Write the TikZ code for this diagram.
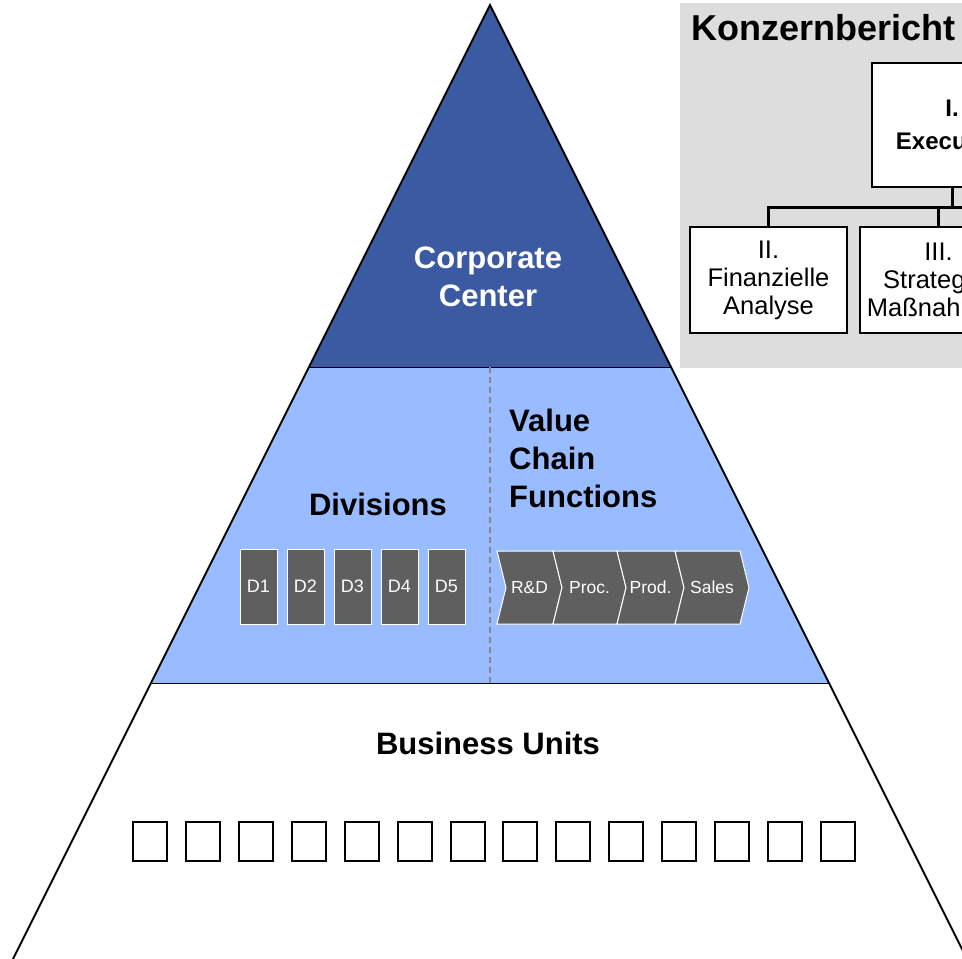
\documentclass[tikz,border=0pt]{standalone}
\usepackage{fontspec}
\setmainfont{Liberation Sans}
\definecolor{cdark}{HTML}{3C5AA2}
\definecolor{clight}{HTML}{99BBFF}
\definecolor{cbox}{HTML}{5F5F5F}
\definecolor{cpanel}{HTML}{DDDDDD}
\definecolor{cdash}{HTML}{888888}
\tikzset{
  bigtext/.style={font=\fontsize{31}{38}\selectfont\bfseries, inner sep=0pt},
  dbox/.style={minimum width=37pt, minimum height=75pt, inner sep=0pt, fill=cbox, draw=white, line width=1pt, text=white, font=\fontsize{18}{21}\selectfont},
  chev/.style={fill=cbox, draw=white, line width=1pt},
  chevtext/.style={text=white, inner sep=0pt, font=\fontsize{17.5}{20}\selectfont},
  bubox/.style={minimum width=34pt, minimum height=39pt, inner sep=0pt, draw=black, line width=2pt, fill=white},
  obox/.style={draw=black, line width=1.3pt, fill=white, inner sep=0pt, align=center, minimum width=157pt, minimum height=106pt, font=\fontsize{25.5}{28}\selectfont},
  conn/.style={line width=3pt, black}
}
\begin{document}
\begin{tikzpicture}[x=1pt,y=-1pt]
\useasboundingbox (0,0) rectangle (962,959);
\clip (0,0) rectangle (962,959);
\fill[white] (0,0) rectangle (962,959);
% pyramid
\coordinate (apex) at (490,5);
\coordinate (tl) at (309,367);
\coordinate (tr) at (671,367);
\coordinate (ml) at (151,683);
\coordinate (mr) at (829,683);
\coordinate (bl) at (-10,1005);
\coordinate (br) at (990,1005);
\fill[cdark] (apex) -- (tl) -- (tr) -- cycle;
\fill[clight] (tl) -- (tr) -- (mr) -- (ml) -- cycle;
\draw[line width=1pt] (tl) -- (tr);
\draw[line width=1pt] (ml) -- (mr);
\coordinate (dtop) at (490,367);
\coordinate (dbot) at (490,683);
\draw[cdash, line width=1.5pt, dash pattern=on 6pt off 4pt] (dtop) -- (dbot);
\draw[line width=2pt, line join=miter] (bl) -- (apex) -- (br);
% labels
\node[bigtext, text=white, align=center] (cc) at (488,277) {Corporate\\Center};
\node[bigtext] (div) at (378,504) {Divisions};
\node[bigtext, align=left, anchor=west] (vcf) at (509,458) {Value\\Chain\\Functions};
\node[bigtext] (bu) at (488,743) {Business Units};
% divisions
\foreach \i in {1,...,5}
  \node[dbox] (d\i) at ({258.5+47*(\i-1)},586.5) {D\i};
% value chain chevrons
\foreach \L/\R/\t [count=\k] in {497/553/R\&D, 553/617/Proc., 617/675/Prod., 675/740/Sales}{
  \filldraw[chev] (\L,551) -- (\R,551) -- (\R+9,587.5) -- (\R,624) -- (\L,624) -- (\L+9,587.5) -- cycle;
  \node[chevtext] (c\k) at ({(\L+\R)/2+4.5},587.5) {\t};
}
% business units
\foreach \i in {0,...,13}
  \node[bubox] (u\i) at ({150+52.92*\i},841.5) {};
% report panel
\fill[cpanel] (680,3) rectangle (1000,368);
\node[anchor=base west, inner sep=0pt, font=\fontsize{36}{40}\selectfont\bfseries] (title) at (691,40) {Konzernbericht};
\node[obox, minimum width=160pt, minimum height=124pt, font=\fontsize{24}{33}\selectfont\bfseries] (b1) at (952,125) {I.\\Executive};
\node[obox] (b2) at (768.5,280) {II.\\Finanzielle\\Analyse};
\node[obox] (b3) at (938.5,280) {III.\\Strategie-\\Maßnahmen};
\coordinate (bar) at (952,207);
\coordinate (barend) at (975,207);
\draw[conn] (b1.south) -- (bar);
\draw[conn] (barend) -- (bar) -| (b2.north);
\draw[conn] (bar -| b3.north) -- (b3.north);
\end{tikzpicture}
\end{document}
